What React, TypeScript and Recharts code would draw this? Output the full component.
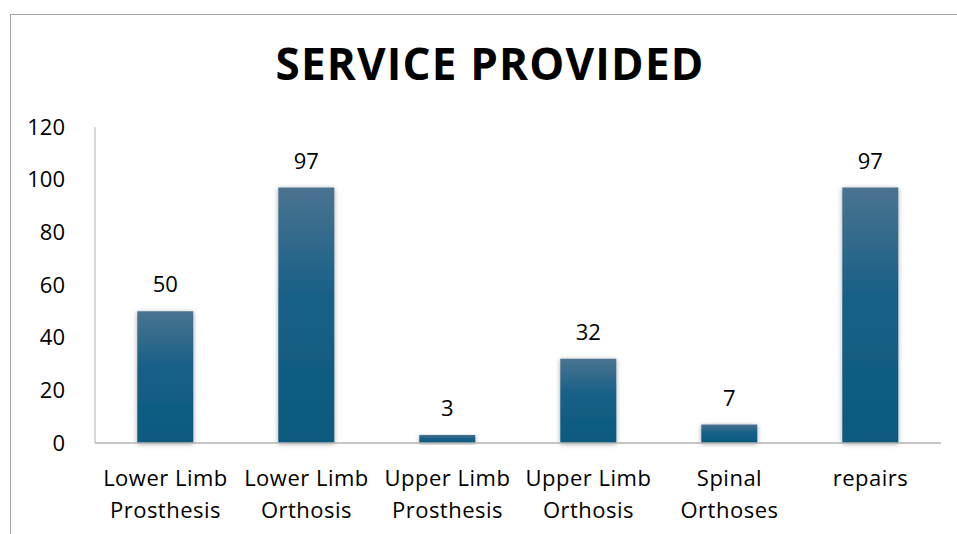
import { Bar, BarChart, LabelList, XAxis, YAxis } from "recharts";

// categories + values
const categories = [
  "Lower Limb Prosthesis",
  "Lower Limb Orthosis",
  "Upper Limb Prosthesis",
  "Upper Limb Orthosis",
  "Spinal Orthoses",
  "repairs",
];
const serviceCounts = [50, 97, 3, 32, 7, 97];
const yTicks = [0, 20, 40, 60, 80, 100, 120];

// two-line tick labels, as Excel wraps them
const tickLines: Record<string, string[]> = {
  "Lower Limb Prosthesis": ["Lower Limb", "Prosthesis"],
  "Lower Limb Orthosis": ["Lower Limb", "Orthosis"],
  "Upper Limb Prosthesis": ["Upper Limb", "Prosthesis"],
  "Upper Limb Orthosis": ["Upper Limb", "Orthosis"],
  "Spinal Orthoses": ["Spinal", "Orthoses"],
  repairs: ["repairs"],
};

const FONT = "'Open Sans', 'Liberation Sans', sans-serif";

const data = categories.map((name, i) => ({ name, value: serviceCounts[i] }));

function CategoryTick({ x, y, payload }: { x?: number; y?: number; payload?: { value: string } }) {
  const lines = tickLines[payload?.value ?? ""] ?? [payload?.value ?? ""];
  return (
    <text
      x={x}
      y={y}
      textAnchor="middle"
      fill="#000"
      fontSize={22}
      fontFamily={FONT}
      letterSpacing={0.5}
    >
      {lines.map((l, i) => (
        <tspan key={i} x={x} dy={i === 0 ? 35 : 32}>
          {l}
        </tspan>
      ))}
    </text>
  );
}

export default function App() {
  return (
    <div
      style={{
        position: "absolute",
        left: 0,
        top: 0,
        width: 957,
        height: 534,
        background: "#fff",
        overflow: "hidden",
      }}
    >
      {/* chart frame, only left + top edges are inside the crop */}
      <div
        style={{
          position: "absolute",
          left: 10,
          top: 14,
          width: 980,
          height: 560,
          borderLeft: "1.5px solid #a6a6a6",
          borderTop: "1.5px solid #a6a6a6",
        }}
      />
      <div
        style={{
          position: "absolute",
          left: 0,
          top: 33,
          width: 980,
          textAlign: "center",
          fontFamily: FONT,
          fontWeight: 700,
          fontSize: 44,
          lineHeight: "60px",
          letterSpacing: 1.2,
          color: "#000",
        }}
      >
        SERVICE PROVIDED
      </div>
      <div style={{ position: "absolute", left: 0, top: 0 }}>
        <BarChart
          width={957}
          height={534}
          data={data}
          margin={{ top: 127, right: 16, bottom: 0, left: 0 }}
          barCategoryGap="30%"
        >
          <defs>
            <linearGradient id="barFill" x1="0" y1="0" x2="0" y2="1">
              <stop offset="0%" stopColor="#4a7391" />
              <stop offset="45%" stopColor="#155f86" />
              <stop offset="100%" stopColor="#0d5a7e" />
            </linearGradient>
            <filter id="barShadow" x="-30%" y="-10%" width="160%" height="130%">
              <feDropShadow dx="0" dy="1" stdDeviation="2.5" floodColor="#000" floodOpacity="0.35" />
            </filter>
          </defs>
          <XAxis
            dataKey="name"
            interval={0}
            tickLine={false}
            axisLine={{ stroke: "#b3b3b3", strokeWidth: 1.5 }}
            tick={<CategoryTick />}
            height={91}
          />
          <YAxis
            domain={[0, 120]}
            ticks={yTicks}
            width={95}
            tickLine={false}
            axisLine={{ stroke: "#b3b3b3", strokeWidth: 1 }}
            tickMargin={24}
            tick={{ fill: "#000", fontSize: 22, fontFamily: FONT }}
          />
          <Bar
            dataKey="value"
            fill="url(#barFill)"
            filter="url(#barShadow)"
            isAnimationActive={false}
          >
            <LabelList
              dataKey="value"
              position="top"
              offset={19}
              fill="#000"
              fontSize={22}
              fontFamily={FONT}
            />
          </Bar>
        </BarChart>
      </div>
    </div>
  );
}
